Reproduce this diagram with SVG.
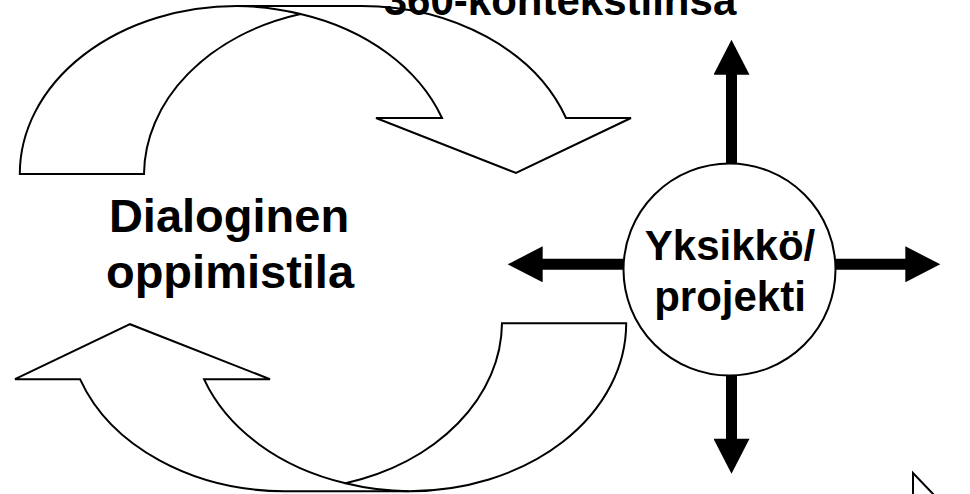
<svg xmlns="http://www.w3.org/2000/svg" xmlns:xlink="http://www.w3.org/1999/xlink" width="970" height="494" viewBox="0 0 970 494">
<style>
  .outline { fill: #ffffff; stroke: #000000; stroke-width: 2; stroke-linejoin: miter; }
  .edge { fill: none; stroke: #000000; stroke-width: 2; }
  .label { font-family: "Liberation Sans", Arial, sans-serif; font-weight: bold; fill: #000000; text-anchor: middle; }
  .conn { stroke: #000000; stroke-width: 11; fill: none; marker-end: url(#head); }
</style>
<defs>
  <marker id="head" markerUnits="userSpaceOnUse" markerWidth="36" markerHeight="36" viewBox="0 0 35 36" refX="1" refY="18" orient="auto">
    <path d="M0,0 L35,18 L0,36 Z" fill="#000000"/>
  </marker>
  <g id="curved">
    <path class="outline" d="M19.8,174 A217,168 0 0 1 237,6 L361,6 A217,168 0 0 1 566,118 L631,118 L516,173 L376,118 L442,118 A217,168 0 0 0 300.5,14 A217,168 0 0 0 144,174 Z"/>
    <path class="edge" d="M237,6 A217,168 0 0 1 300.5,14"/>
  </g>
</defs>
<rect width="970" height="494" fill="#ffffff"/>
<g id="arrow-top">
  <use xlink:href="#curved" href="#curved"/>
</g>
<g id="arrow-bottom">
  <use xlink:href="#curved" href="#curved" transform="rotate(180 323 248.6)"/>
</g>
<g id="context-label">
  <text class="label" x="560" y="15" font-size="42">360-kontekstiinsa</text>
</g>
<g id="dialogue">
  <text class="label" x="229" y="232" font-size="47">Dialoginen</text>
  <text class="label" x="230" y="288" font-size="47">oppimistila</text>
</g>
<g id="connectors">
  <line class="conn" x1="731.5" y1="200" x2="731.5" y2="73.7"/>
  <line class="conn" x1="731.5" y1="330" x2="731.5" y2="439.7"/>
  <line class="conn" x1="700" y1="264.3" x2="541.7" y2="264.3"/>
  <line class="conn" x1="760" y1="264.3" x2="906.3" y2="264.3"/>
</g>
<g id="unit">
  <circle class="outline" cx="729.5" cy="269.5" r="106"/>
  <text class="label" x="730" y="260" font-size="42">Yksikkö/</text>
  <text class="label" x="730" y="311" font-size="42">projekti</text>
</g>
<g id="cursor">
  <path class="outline" d="M913,496 L913,473 L935,496"/>
</g>
</svg>
